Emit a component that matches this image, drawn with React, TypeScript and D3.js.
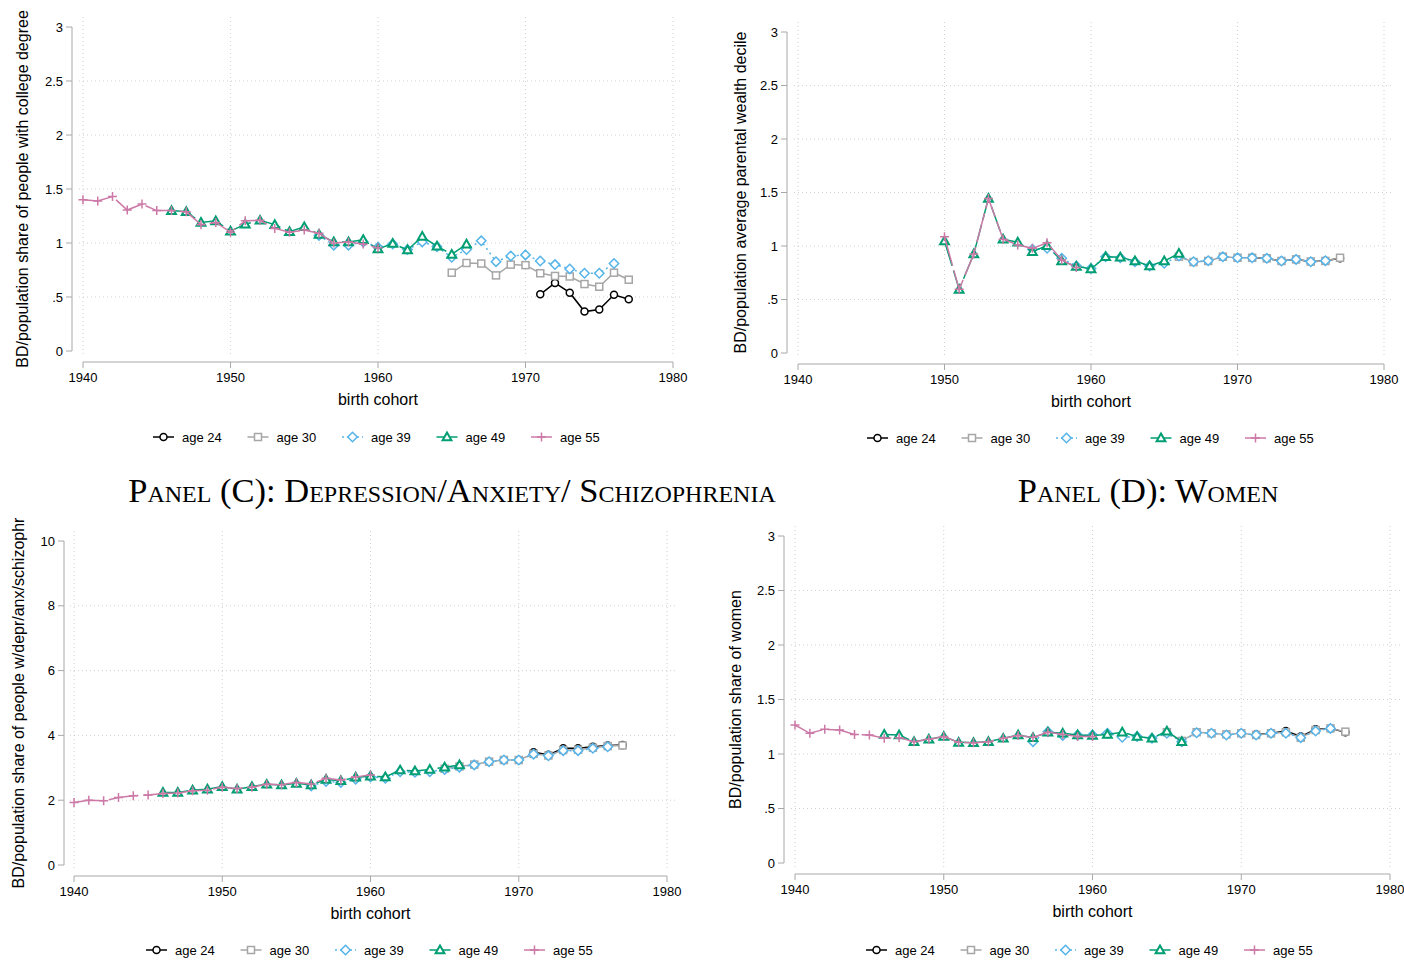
import React from 'react';
import * as d3 from 'd3';

// age groups, in drawing order
const ageLabels = ['age 24', 'age 30', 'age 39', 'age 49', 'age 55'];

// first birth cohort observed for each age group, per panel
const firstCohortA = [1971, 1965, 1956, 1946, 1940];
const firstCohortB = [1971, 1966, 1956, 1950, 1950];
const firstCohortC = [1971, 1965, 1956, 1946, 1940];
const firstCohortD = [1971, 1965, 1956, 1946, 1940];

// Panel A: college degree
const collegeAge24 = [0.525, 0.63, 0.54, 0.365, 0.385, 0.52, 0.48];
const collegeAge30 = [0.725, 0.815, 0.81, 0.70, 0.80, 0.795, 0.72, 0.695, 0.69, 0.62, 0.595, 0.725, 0.66];
const collegeAge39 = [1.07, 0.98, 0.98, 1.01, 0.96, 0.99, 0.94, 1.01, 0.965, 0.867, 0.94, 1.02, 0.827, 0.88, 0.89, 0.833, 0.80, 0.76, 0.72, 0.72, 0.81];
const collegeAge49 = [1.30, 1.29, 1.19, 1.205, 1.11, 1.175, 1.21, 1.17, 1.105, 1.15, 1.08, 1.01, 1.01, 1.03, 0.945, 0.995, 0.935, 1.06, 0.97, 0.895, 0.99];
const collegeAge55 = [1.40, 1.39, 1.43, 1.305, 1.36, 1.30, 1.30, 1.29, 1.17, 1.19, 1.10, 1.205, 1.21, 1.135, 1.10, 1.12, 1.09, 1.00, 1.01, 0.99, 0.955];

// Panel B: parental wealth decile
const wealthAge24 = [0.89, 0.885, 0.86, 0.875, 0.853, 0.863, 0.885];
const wealthAge30 = [0.90, 0.85, 0.86, 0.90, 0.89, 0.89, 0.885, 0.86, 0.875, 0.855, 0.86, 0.89];
const wealthAge39 = [0.97, 0.978, 0.885, 0.813, 0.79, 0.90, 0.89, 0.853, 0.813, 0.838, 0.906, 0.853, 0.863, 0.90, 0.89, 0.89, 0.885, 0.86, 0.875, 0.853, 0.863];
const wealthAge49 = [1.047, 0.595, 0.925, 1.445, 1.063, 1.035, 0.947, 1.003, 0.86, 0.81, 0.785, 0.90, 0.895, 0.86, 0.813, 0.86, 0.93];
const wealthAge55 = [1.087, 0.595, 0.925, 1.445, 1.063, 1.01, 0.978, 1.03, 0.87, 0.80];

// Panel C: depression / anxiety / schizophrenia
const mentalAge24 = [3.48, 3.40, 3.60, 3.60, 3.65, 3.69, 3.70];
const mentalAge30 = [2.97, 3.04, 3.10, 3.19, 3.24, 3.24, 3.43, 3.38, 3.55, 3.56, 3.62, 3.67, 3.69];
const mentalAge39 = [2.44, 2.58, 2.55, 2.65, 2.72, 2.68, 2.88, 2.86, 2.88, 2.95, 3.02, 3.09, 3.19, 3.24, 3.24, 3.42, 3.37, 3.53, 3.53, 3.60, 3.65];
const mentalAge49 = [2.24, 2.24, 2.31, 2.34, 2.42, 2.34, 2.42, 2.49, 2.47, 2.52, 2.47, 2.64, 2.60, 2.71, 2.74, 2.72, 2.93, 2.90, 2.95, 3.02, 3.09];
const mentalAge55 = [1.93, 2.0, 1.98, 2.08, 2.14, 2.16, 2.21, 2.22, 2.29, 2.31, 2.40, 2.36, 2.40, 2.49, 2.48, 2.55, 2.50, 2.68, 2.62, 2.72, 2.78];

// Panel D: women
const womenAge24 = [1.18, 1.19, 1.21, 1.16, 1.227, 1.235, 1.20];
const womenAge30 = [1.20, 1.12, 1.20, 1.19, 1.18, 1.19, 1.175, 1.19, 1.20, 1.15, 1.22, 1.235, 1.205];
const womenAge39 = [1.113, 1.205, 1.17, 1.174, 1.174, 1.19, 1.153, 1.16, 1.144, 1.19, 1.113, 1.195, 1.19, 1.174, 1.19, 1.174, 1.19, 1.19, 1.15, 1.21, 1.235];
const womenAge49 = [1.18, 1.174, 1.113, 1.135, 1.16, 1.107, 1.104, 1.113, 1.144, 1.174, 1.15, 1.20, 1.19, 1.174, 1.17, 1.18, 1.20, 1.16, 1.144, 1.21, 1.113];
const womenAge55 = [1.266, 1.19, 1.227, 1.22, 1.18, 1.174, 1.144, 1.15, 1.113, 1.135, 1.16, 1.107, 1.104, 1.113, 1.144, 1.17, 1.153, 1.20, 1.18, 1.16, 1.16];

const xTicks = [1940, 1950, 1960, 1970, 1980];
const yTicksSmall = [0, 0.5, 1, 1.5, 2, 2.5, 3];
const yTickLabelsSmall = ['0', '.5', '1', '1.5', '2', '2.5', '3'];
const yTicksBig = [0, 2, 4, 6, 8, 10];
const yTickLabelsBig = ['0', '2', '4', '6', '8', '10'];

const colors = ['#000000', '#a6a6a6', '#56b4e9', '#009e73', '#cc79a7'];
const dashes = ['none', 'none', '2,3.5', '26,5', '30,5'];
const markers = ['circle', 'square', 'diamond', 'triangle', 'plus'];

const FONT = '"Liberation Sans", Arial, Helvetica, sans-serif';
const AXIS = '#a8a8a8';
const GRID = '#d0d0d0';

function Marker({ kind, x, y, color }) {
  const sw = 1.5;
  if (kind === 'circle') return <circle cx={x} cy={y} r={3.5} fill="white" stroke={color} strokeWidth={sw} />;
  if (kind === 'square') return <rect x={x - 3.5} y={y - 3.5} width={7} height={7} fill="white" stroke={color} strokeWidth={sw} />;
  if (kind === 'diamond') {
    const s = 4.7;
    return <path d={`M${x},${y - s}L${x + s},${y}L${x},${y + s}L${x - s},${y}Z`} fill="white" stroke={color} strokeWidth={sw} />;
  }
  if (kind === 'triangle') {
    const s = 4.4;
    return <path d={`M${x},${y - s}L${x + s},${y + s * 0.75}L${x - s},${y + s * 0.75}Z`} fill="white" stroke={color} strokeWidth={2} />;
  }
  return <path d={`M${x - 4.5},${y}H${x + 4.5}M${x},${y - 4.5}V${y + 4.5}`} stroke={color} strokeWidth={sw} fill="none" />;
}

function Panel({ cfg }) {
  const x = d3.scaleLinear().domain([1940, 1980]).range([cfg.x0, cfg.x1]);
  const y = d3.scaleLinear().domain([0, cfg.yMax]).range([cfg.y0, cfg.y1]);
  const line = d3.line().x(d => x(d[0])).y(d => y(d[1]));
  const series = cfg.series.map((vals, i) => vals.map((v, j) => [cfg.first[i] + j, v]));
  const yMid = (cfg.y0 + cfg.y1) / 2;

  return (
    <g fontFamily={FONT}>
      {/* grid */}
      {cfg.yTicks.slice(1, -1).map(t => (
        <line key={'gy' + t} x1={cfg.x0 - 4} x2={cfg.x1 + 10} y1={y(t)} y2={y(t)} stroke={GRID} strokeDasharray="1,3" />
      ))}
      {xTicks.map(t => (
        <line key={'gx' + t} x1={x(t)} x2={x(t)} y1={cfg.y1 - 10} y2={cfg.y0 + 5} stroke={GRID} strokeDasharray="1,3" />
      ))}
      {/* y axis */}
      <line x1={cfg.axX} x2={cfg.axX} y1={y(0)} y2={y(cfg.yMax)} stroke={AXIS} />
      {cfg.yTicks.map((t, i) => (
        <g key={'yt' + t}>
          <line x1={cfg.axX - 6} x2={cfg.axX} y1={y(t)} y2={y(t)} stroke={AXIS} />
          <text x={cfg.axX - 9} y={y(t) + 4.5} textAnchor="end" fontSize={13}>{cfg.yTickLabels[i]}</text>
        </g>
      ))}
      {/* x axis */}
      <line x1={x(1940)} x2={x(1980)} y1={cfg.axY} y2={cfg.axY} stroke={AXIS} />
      {xTicks.map(t => (
        <g key={'xt' + t}>
          <line x1={x(t)} x2={x(t)} y1={cfg.axY} y2={cfg.axY + 6} stroke={AXIS} />
          <text x={x(t)} y={cfg.axY + 20} textAnchor="middle" fontSize={13}>{t}</text>
        </g>
      ))}
      <text x={(x(1940) + x(1980)) / 2} y={cfg.axY + 43} textAnchor="middle" fontSize={16}>birth cohort</text>
      <text transform={`translate(${cfg.yLabX},${yMid}) rotate(-90)`} textAnchor="middle" fontSize={16} dy="0.35em">{cfg.yLabel}</text>
      {/* series */}
      {series.map((pts, i) => (
        <g key={'s' + i}>
          <path d={line(pts)} fill="none" stroke={colors[i]} strokeWidth={1.5} strokeDasharray={dashes[i]} />
          {pts.map((p, j) => <Marker key={j} kind={markers[i]} x={x(p[0])} y={y(p[1])} color={colors[i]} />)}
        </g>
      ))}
      {/* legend */}
      {ageLabels.map((lab, i) => {
        const lx = cfg.legX + i * 94.5;
        return (
          <g key={'l' + i}>
            <line x1={lx} x2={lx + 21} y1={cfg.legY} y2={cfg.legY} stroke={colors[i]} strokeWidth={1.5} strokeDasharray={i === 2 ? '2,3' : 'none'} />
            <Marker kind={markers[i]} x={lx + 10.5} y={cfg.legY} color={colors[i]} />
            <text x={lx + 29} y={cfg.legY + 4.5} fontSize={13}>{lab}</text>
          </g>
        );
      })}
    </g>
  );
}

const panels = [
  {
    x0: 83, x1: 673, y0: 351, y1: 27, yMax: 3, axX: 72, axY: 362, yLabX: 22,
    yTicks: yTicksSmall, yTickLabels: yTickLabelsSmall, legX: 153, legY: 437,
    yLabel: 'BD/population share of people with college degree',
    first: firstCohortA, series: [collegeAge24, collegeAge30, collegeAge39, collegeAge49, collegeAge55],
  },
  {
    x0: 798, x1: 1384, y0: 353, y1: 32, yMax: 3, axX: 787, axY: 364, yLabX: 740,
    yTicks: yTicksSmall, yTickLabels: yTickLabelsSmall, legX: 867, legY: 438,
    yLabel: 'BD/population average parental wealth decile',
    first: firstCohortB, series: [wealthAge24, wealthAge30, wealthAge39, wealthAge49, wealthAge55],
  },
  {
    x0: 74, x1: 667, y0: 865, y1: 541, yMax: 10, axX: 64, axY: 876, yLabX: 18,
    yTicks: yTicksBig, yTickLabels: yTickLabelsBig, legX: 146, legY: 950,
    yLabel: 'BD/population share of people w/depr/anx/schizophr',
    first: firstCohortC, series: [mentalAge24, mentalAge30, mentalAge39, mentalAge49, mentalAge55],
  },
  {
    x0: 795, x1: 1390, y0: 863, y1: 536, yMax: 3, axX: 784, axY: 874, yLabX: 735,
    yTicks: yTicksSmall, yTickLabels: yTickLabelsSmall, legX: 866, legY: 950,
    yLabel: 'BD/population share of women',
    first: firstCohortD, series: [womenAge24, womenAge30, womenAge39, womenAge49, womenAge55],
  },
];

export default function App() {
  return (
    <div style={{ position: 'absolute', left: 0, top: 0 }}>
      <svg width={1404} height={961} style={{ display: 'block', background: 'white' }}>
        {panels.map((p, i) => <Panel key={i} cfg={p} />)}
        <g fontFamily='"Liberation Serif", "Times New Roman", serif' fontSize={34.5} style={{ fontVariant: 'small-caps' }} textAnchor="middle">
          <text x={452} y={502}>Panel (C): Depression/Anxiety/ Schizophrenia</text>
          <text x={1148} y={502}>Panel (D): Women</text>
        </g>
      </svg>
    </div>
  );
}
